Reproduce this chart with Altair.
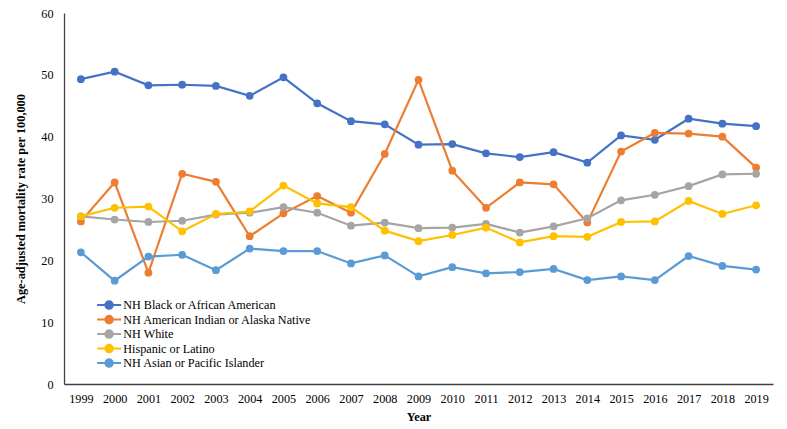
import altair as alt
import pandas as pd

years = [str(y) for y in range(1999, 2020)]
series_names = [
    "NH Black or African American",
    "NH American Indian or Alaska Native",
    "NH White",
    "Hispanic or Latino",
    "NH Asian or Pacific Islander",
]
series_colors = ["#4472C4", "#ED7D31", "#A5A5A5", "#FFC000", "#5B9BD5"]

black = [49.3, 50.5, 48.3, 48.4, 48.2, 46.6, 49.6, 45.4, 42.5, 42.0, 38.7,
         38.8, 37.3, 36.7, 37.5, 35.8, 40.2, 39.5, 42.9, 42.1, 41.7]
aian = [26.3, 32.6, 18.0, 34.0, 32.7, 23.9, 27.6, 30.4, 27.7, 37.2, 49.2,
        34.5, 28.5, 32.6, 32.3, 26.1, 37.6, 40.6, 40.5, 40.0, 35.0]
white = [27.1, 26.6, 26.2, 26.4, 27.4, 27.7, 28.6, 27.7, 25.6, 26.1, 25.2,
         25.3, 25.9, 24.5, 25.5, 26.8, 29.7, 30.6, 32.0, 33.9, 34.0]
hispanic = [27.1, 28.5, 28.7, 24.7, 27.5, 27.9, 32.1, 29.2, 28.6, 24.8, 23.1,
            24.1, 25.3, 22.9, 23.9, 23.8, 26.2, 26.3, 29.6, 27.5, 28.9]
asian = [21.3, 16.7, 20.6, 20.9, 18.4, 21.9, 21.5, 21.5, 19.5, 20.8, 17.4,
         18.9, 17.9, 18.1, 18.6, 16.8, 17.4, 16.8, 20.7, 19.1, 18.5]

all_values = [black, aian, white, hispanic, asian]
rows = []
for i, (name, vals) in enumerate(zip(series_names, all_values)):
    for y, v in zip(years, vals):
        rows.append({"Year": y, "Group": name, "Rate": v, "order": i})
df = pd.DataFrame(rows)

FONT = "Liberation Serif"

x_enc = alt.X("Year:O", sort=years, scale=alt.Scale(type="point", padding=0.5),
              axis=alt.Axis(title="Year", labelAngle=0, ticks=False, domainColor="#404040",
                            labelPadding=8, titlePadding=6))
y_enc = alt.Y("Rate:Q", scale=alt.Scale(domain=[0, 60], nice=False),
              axis=alt.Axis(title="Age-adjusted mortality rate per 100,000",
                            values=[0, 10, 20, 30, 40, 50, 60], ticks=False, grid=False,
                            domainColor="#404040", labelPadding=11, titlePadding=13))
color_scale = alt.Scale(domain=series_names, range=series_colors)

legend = alt.Legend(
    title=None, orient="none", legendX=39, legendY=286,
    symbolType="M-2.4,0L2.4,0M-0.75,0A0.75,0.75 0 1,1 0.75,0A0.75,0.75 0 1,1 -0.75,0Z",
    symbolSize=100, symbolStrokeWidth=2,
    labelFontSize=12.2, labelFont=FONT, labelColor="#000000", labelLimit=400,
    labelOffset=8, rowPadding=-1.5, padding=0)

lines = alt.Chart(df).mark_line(strokeWidth=2.2).encode(
    x=x_enc, y=y_enc,
    color=alt.Color("Group:N", scale=color_scale, sort=series_names, legend=legend),
)
points = alt.Chart(df).mark_point(filled=True, size=60, opacity=1).encode(
    x=x_enc, y=y_enc,
    color=alt.Color("Group:N", scale=color_scale, sort=series_names, legend=legend),
)

chart = alt.layer(lines, points).properties(
    width=709, height=371,
    background="white",
    autosize=alt.AutoSizeParams(type="none"),
    padding={"left": 64, "top": 13, "right": 14, "bottom": 45},
).configure(font=FONT).configure_view(stroke=None).configure_axis(
    labelFont=FONT, labelFontSize=12.2, labelColor="#000000",
    titleFont=FONT, titleFontSize=12.3, titleFontWeight="bold", titleColor="#000000",
    domainWidth=1.3,
).configure_legend(
    labelFont=FONT, labelFontSize=12.2, labelColor="#000000", labelLimit=400,
)

chart.save("out.html", embed_options={"renderer": "svg", "actions": False})
